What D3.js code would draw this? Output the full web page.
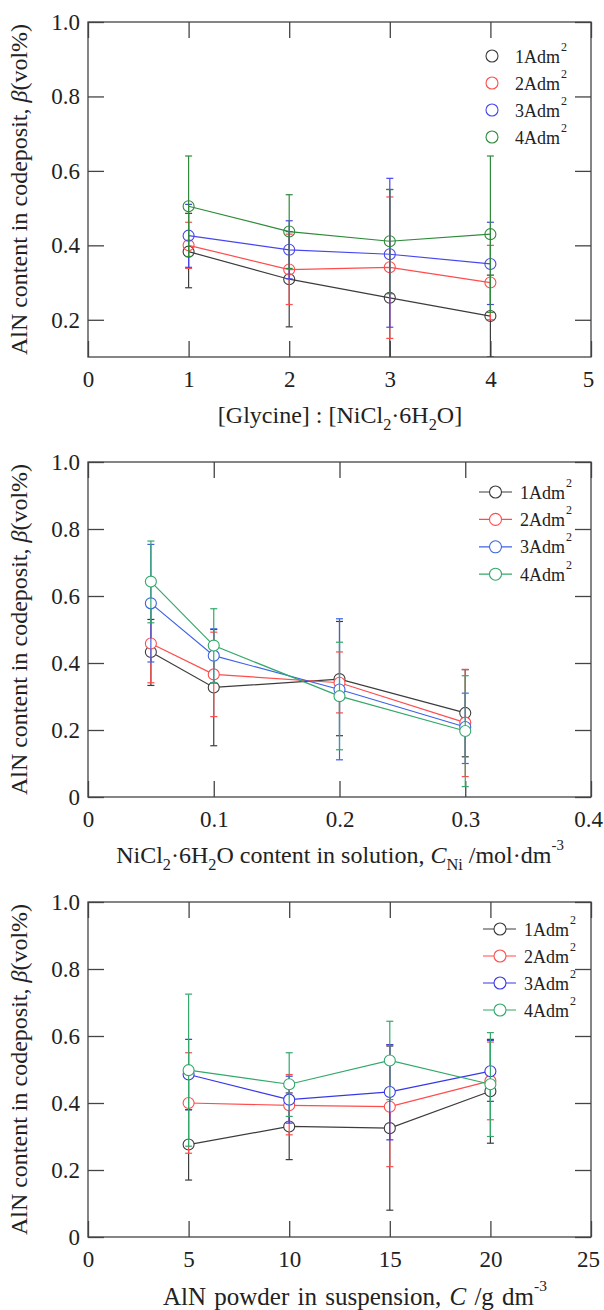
<!DOCTYPE html>
<html><head><meta charset="utf-8">
<script src="https://cdn.jsdelivr.net/npm/d3@7"></script>
<style>
body{margin:0;background:#fff}
svg{display:block}
text{font-family:"Liberation Serif","Times New Roman",serif;fill:#222}
</style>
</head><body>
<svg id="c" width="604" height="1310" font-family="Liberation Serif"></svg>
<script>
// ---------- DATA ----------
const seriesNames = ["1Adm", "2Adm", "3Adm", "4Adm"];

// Panel 1: [Glycine] : [NiCl2·6H2O]
const glyX = [1, 2, 3, 4];
const gly1 = [0.383, 0.309, 0.259, 0.210];
const gly1Hi = [0.486, 0.437, 0.550, 0.320];
const gly1Lo = [0.286, 0.181, -0.030, 0.100];
const gly2 = [0.400, 0.335, 0.341, 0.300];
const gly2Hi = [0.462, 0.430, 0.530, 0.400];
const gly2Lo = [0.338, 0.241, 0.150, 0.200];
const gly3 = [0.426, 0.388, 0.376, 0.350];
const gly3Hi = [0.510, 0.466, 0.580, 0.462];
const gly3Lo = [0.341, 0.310, 0.180, 0.241];
const gly4 = [0.505, 0.437, 0.411, 0.430];
const gly4Hi = [0.640, 0.536, 0.550, 0.640];
const gly4Lo = [0.370, 0.338, 0.270, 0.220];
const glyXTicks = [0, 1, 2, 3, 4, 5];
const glyXTickLabels = ["0", "1", "2", "3", "4", "5"];
const glyYTicks = [0.2, 0.4, 0.6, 0.8, 1.0];
const glyYTickLabels = ["0.2", "0.4", "0.6", "0.8", "1.0"];

// Panel 2: NiCl2·6H2O content in solution
const niX = [0.05, 0.1, 0.2, 0.3];
const ni1 = [0.433, 0.327, 0.352, 0.251];
const ni1Hi = [0.530, 0.500, 0.524, 0.380];
const ni1Lo = [0.333, 0.153, 0.183, 0.120];
const ni2 = [0.458, 0.366, 0.341, 0.222];
const ni2Hi = [0.575, 0.492, 0.433, 0.381];
const ni2Lo = [0.341, 0.240, 0.251, 0.061];
const ni3 = [0.578, 0.422, 0.321, 0.209];
const ni3Hi = [0.754, 0.502, 0.532, 0.310];
const ni3Lo = [0.403, 0.340, 0.111, 0.100];
const ni4 = [0.643, 0.452, 0.301, 0.197];
const ni4Hi = [0.764, 0.562, 0.462, 0.362];
const ni4Lo = [0.520, 0.341, 0.141, 0.031];
const niXTicks = [0, 0.1, 0.2, 0.3, 0.4];
const niXTickLabels = ["0", "0.1", "0.2", "0.3", "0.4"];
const niYTicks = [0, 0.2, 0.4, 0.6, 0.8, 1.0];
const niYTickLabels = ["0", "0.2", "0.4", "0.6", "0.8", "1.0"];

// Panel 3: AlN powder in suspension
const alnX = [5, 10, 15, 20];
const aln1 = [0.276, 0.330, 0.325, 0.435];
const aln1Hi = [0.380, 0.430, 0.570, 0.590];
const aln1Lo = [0.170, 0.231, 0.080, 0.280];
const aln2 = [0.400, 0.393, 0.389, 0.466];
const aln2Hi = [0.550, 0.485, 0.574, 0.582];
const aln2Lo = [0.250, 0.305, 0.210, 0.350];
const aln3 = [0.485, 0.410, 0.433, 0.495];
const aln3Hi = [0.590, 0.480, 0.574, 0.587];
const aln3Lo = [0.380, 0.340, 0.290, 0.405];
const aln4 = [0.498, 0.456, 0.527, 0.456];
const aln4Hi = [0.725, 0.550, 0.644, 0.610];
const aln4Lo = [0.271, 0.360, 0.410, 0.300];
const alnXTicks = [0, 5, 10, 15, 20, 25];
const alnXTickLabels = ["0", "5", "10", "15", "20", "25"];
const alnYTicks = [0, 0.2, 0.4, 0.6, 0.8, 1.0];
const alnYTickLabels = ["0", "0.2", "0.4", "0.6", "0.8", "1.0"];

// ---------- DRAWING ----------
const svg = d3.select("#c");
const SERIF = '"Liberation Serif","Times New Roman",serif';
const TICK_FS = 23;
let clipId = 0;

function addRich(sel, parts, fs) {
  parts.forEach(([t, s]) => {
    const ts = sel.append("tspan").text(t);
    if (s === "i") ts.attr("font-style", "italic");
    if (s === "sub") ts.attr("font-size", fs * 0.68).attr("dy", fs * 0.28);
    if (s === "sup") ts.attr("font-size", fs * 0.62).attr("dy", -fs * 0.55);
    if (s === "back") ts.attr("dy", -fs * 0.28);
  });
}

function panel(cfg) {
  const L = 88, R = 591, T = cfg.top, B = cfg.bottom;
  const x = d3.scaleLinear().domain(cfg.xDomain).range([L, R]);
  const y = d3.scaleLinear().domain(cfg.yDomain).range([B, T]);
  const g = svg.append("g").attr("font-family", SERIF);

  const fmt = (labels, ticks) => (d) => labels[ticks.indexOf(d)];
  const ax = g.append("g").attr("transform", `translate(0,${B})`)
    .call(d3.axisBottom(x).tickValues(cfg.xTicks).tickSize(-16).tickPadding(14)
      .tickFormat(fmt(cfg.xTickLabels, cfg.xTicks)));
  const ay = g.append("g").attr("transform", `translate(${L},0)`)
    .call(d3.axisLeft(y).tickValues(cfg.yTicks).tickSize(-16).tickPadding(8)
      .tickFormat(fmt(cfg.yTickLabels, cfg.yTicks)));
  const at = g.append("g").attr("transform", `translate(0,${T})`)
    .call(d3.axisTop(x).tickValues(cfg.xTicks).tickSize(-16).tickFormat(""));
  const ar = g.append("g").attr("transform", `translate(${R},0)`)
    .call(d3.axisRight(y).tickValues(cfg.yTicks).tickSize(-16).tickFormat(""));
  [ax, ay, at, ar].forEach(a => {
    a.attr("font-family", SERIF).attr("font-size", TICK_FS);
    a.select(".domain").remove();
    a.selectAll("line").attr("stroke", "#444").attr("stroke-width", 1.3);
    a.selectAll("text").attr("fill", "#222");
  });
  // keep the last x label inside the page
  ax.selectAll(".tick text").filter(d => d === cfg.xDomain[1]).attr("dx", -3);
  g.append("rect").attr("x", L).attr("y", T).attr("width", R - L).attr("height", B - T)
    .attr("fill", "none").attr("stroke", "#444").attr("stroke-width", 1.3);

  // y title
  const yt = g.append("text").attr("text-anchor", "middle").attr("font-size", 24)
    .attr("transform", `translate(27,${(T + B) / 2}) rotate(-90)`);
  addRich(yt, [["AlN content in codeposit, ", "n"], ["β", "i"], ["(vol%)", "n"]], 24);

  // x title
  const xt = g.append("text").attr("text-anchor", "middle").attr("font-size", cfg.titleFs)
    .attr("word-spacing", cfg.titleWs || 0)
    .attr("x", cfg.titleX).attr("y", B + cfg.titleDy);
  addRich(xt, cfg.title, cfg.titleFs);

  // data
  const cid = "clip" + (clipId++);
  g.append("clipPath").attr("id", cid).append("rect")
    .attr("x", L).attr("y", T).attr("width", R - L).attr("height", B - T);
  const dg = g.append("g").attr("clip-path", `url(#${cid})`);
  const line = d3.line().x(d => x(d.x)).y(d => y(d.v));
  cfg.series.forEach((s) => {
    const pts = cfg.xs.map((xv, i) => ({ x: xv, v: s.v[i], hi: s.hi[i], lo: s.lo[i] }));
    const sg = dg.append("g");
    sg.selectAll("line.eb").data(pts).join("line").attr("class", "eb")
      .attr("x1", d => x(d.x)).attr("x2", d => x(d.x))
      .attr("y1", d => y(d.hi)).attr("y2", d => y(d.lo))
      .attr("stroke", s.color).attr("stroke-width", 1.2);
    ["hi", "lo"].forEach(k => {
      sg.selectAll("line.cap" + k).data(pts).join("line").attr("class", "cap" + k)
        .attr("x1", d => x(d.x) - 3.5).attr("x2", d => x(d.x) + 3.5)
        .attr("y1", d => y(d[k])).attr("y2", d => y(d[k]))
        .attr("stroke", s.color).attr("stroke-width", 1.2);
    });
    sg.append("path").datum(pts).attr("d", line).attr("fill", "none")
      .attr("stroke", s.color).attr("stroke-width", 1.2);
    sg.selectAll("circle").data(pts).join("circle")
      .attr("cx", d => x(d.x)).attr("cy", d => y(d.v)).attr("r", 5.5)
      .attr("fill", cfg.fill).attr("stroke", s.color).attr("stroke-width", 1.1);
  });

  // legend
  const lg = cfg.legend;
  cfg.series.forEach((s, i) => {
    const cy = lg.y0 + i * lg.dy;
    if (lg.line) {
      g.append("line").attr("x1", lg.lx1).attr("x2", lg.lx2).attr("y1", cy).attr("y2", cy)
        .attr("stroke", s.color).attr("stroke-width", 1.2);
    }
    g.append("circle").attr("cx", lg.cx).attr("cy", cy).attr("r", 6)
      .attr("fill", "#fff").attr("stroke", s.color).attr("stroke-width", 1.1);
    const t = g.append("text").attr("x", lg.tx).attr("y", cy + 6.5).attr("font-size", 18);
    t.append("tspan").text(seriesNames[i]);
    t.append("tspan").text("2").attr("font-size", 12).attr("dy", -12).attr("dx", 1);
  });
}

const black = "#3c3c3c", red = "#ff4c4c";

panel({
  top: 22, bottom: 357, xDomain: [0, 5], yDomain: [0.1, 1.0],
  xTicks: glyXTicks, xTickLabels: glyXTickLabels, yTicks: glyYTicks, yTickLabels: glyYTickLabels,
  xs: glyX, fill: "none",
  series: [
    { v: gly1, hi: gly1Hi, lo: gly1Lo, color: black },
    { v: gly2, hi: gly2Hi, lo: gly2Lo, color: red },
    { v: gly3, hi: gly3Hi, lo: gly3Lo, color: "#4646f0" },
    { v: gly4, hi: gly4Hi, lo: gly4Lo, color: "#2f8a3a" }
  ],
  legend: { line: false, cx: 492, tx: 515, y0: 56, dy: 27 },
  titleX: 340, titleDy: 66, titleFs: 24,
  title: [["[Glycine] : [NiCl", "n"], ["2", "sub"], ["·6H", "back"], ["2", "sub"], ["O]", "back"]]
});

panel({
  top: 462, bottom: 797, xDomain: [0, 0.4], yDomain: [0, 1.0],
  xTicks: niXTicks, xTickLabels: niXTickLabels, yTicks: niYTicks, yTickLabels: niYTickLabels,
  xs: niX, fill: "#fff",
  series: [
    { v: ni1, hi: ni1Hi, lo: ni1Lo, color: black },
    { v: ni2, hi: ni2Hi, lo: ni2Lo, color: red },
    { v: ni3, hi: ni3Hi, lo: ni3Lo, color: "#3e62e6" },
    { v: ni4, hi: ni4Hi, lo: ni4Lo, color: "#33a86a" }
  ],
  legend: { line: true, lx1: 479, lx2: 512, cx: 495.5, tx: 520, y0: 492, dy: 27.4 },
  titleX: 340, titleDy: 66, titleFs: 24,
  title: [["NiCl", "n"], ["2", "sub"], ["·6H", "back"], ["2", "sub"], ["O content in solution, ", "back"],
    ["C", "i"], ["Ni", "sub"], [" /mol·dm", "back"], ["-3", "sup"]]
});

panel({
  top: 902, bottom: 1237, xDomain: [0, 25], yDomain: [0, 1.0],
  xTicks: alnXTicks, xTickLabels: alnXTickLabels, yTicks: alnYTicks, yTickLabels: alnYTickLabels,
  xs: alnX, fill: "#fff",
  series: [
    { v: aln1, hi: aln1Hi, lo: aln1Lo, color: black },
    { v: aln2, hi: aln2Hi, lo: aln2Lo, color: red },
    { v: aln3, hi: aln3Hi, lo: aln3Lo, color: "#3838e8" },
    { v: aln4, hi: aln4Hi, lo: aln4Lo, color: "#33a86a" }
  ],
  legend: { line: true, lx1: 483, lx2: 516, cx: 500, tx: 524, y0: 929, dy: 27 },
  titleX: 355, titleDy: 68, titleFs: 25, titleWs: 2,
  title: [["AlN powder in suspension, ", "n"], ["C", "i"], [" /g dm", "n"], ["-3", "sup"]]
});
</script>
</body></html>
